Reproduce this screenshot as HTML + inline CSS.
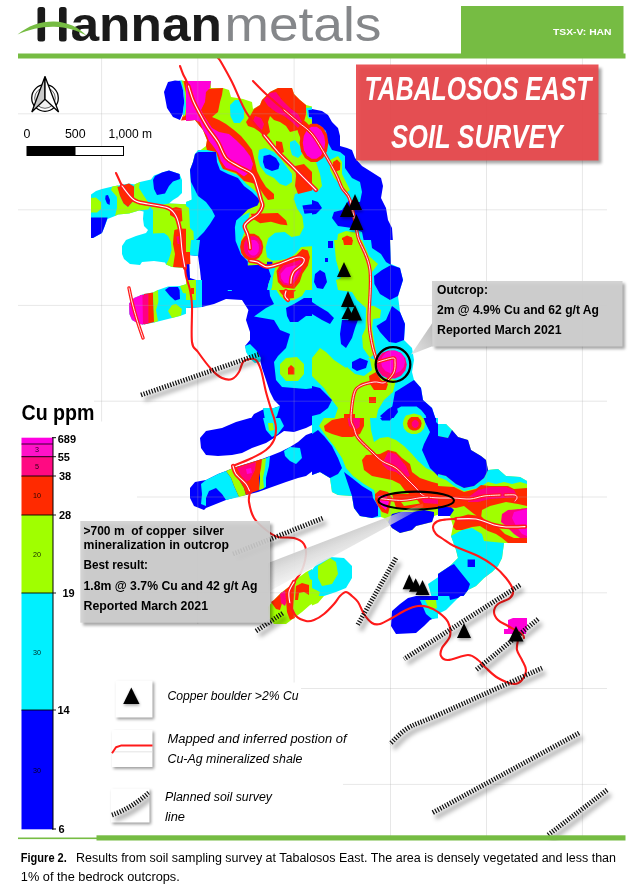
<!DOCTYPE html>
<html><head><meta charset="utf-8"><title>Tabalosos East soil survey</title>
<style>
html,body{margin:0;padding:0;background:#fff;}
body{width:630px;height:888px;overflow:hidden;font-family:"Liberation Sans",sans-serif;}
svg{display:block;font-family:"Liberation Sans",sans-serif;}
.b{font-weight:bold}
.i{font-style:italic}
</style></head><body>
<svg width="630" height="888" viewBox="0 0 630 888">
<defs>
<filter id="sh" x="-20%" y="-20%" width="150%" height="150%"><feGaussianBlur stdDeviation="1.6"/></filter>
<filter id="sh2" x="-20%" y="-20%" width="150%" height="150%"><feGaussianBlur stdDeviation="2.2"/></filter>
<filter id="soft" x="-5%" y="-5%" width="110%" height="110%"><feGaussianBlur stdDeviation="0.35"/></filter>
<linearGradient id="pg1" x1="1" y1="0" x2="0" y2="1"><stop offset="0" stop-color="#b9b9b9"/><stop offset="1" stop-color="#e4e4e4"/></linearGradient>
<linearGradient id="pg2" gradientUnits="userSpaceOnUse" x1="340" y1="528" x2="352" y2="558"><stop offset="0" stop-color="#c2c2c2" stop-opacity="0.95"/><stop offset="0.45" stop-color="#dcdcdc" stop-opacity="0.92"/><stop offset="1" stop-color="#f3f3f3" stop-opacity="0.9"/></linearGradient><linearGradient id="pm2" gradientUnits="userSpaceOnUse" x1="268" y1="0" x2="423" y2="0"><stop offset="0" stop-color="#fff"/><stop offset="0.75" stop-color="#fff"/><stop offset="1" stop-color="#fff" stop-opacity="0.15"/></linearGradient><mask id="mk2"><rect x="260" y="495" width="170" height="105" fill="url(#pm2)"/></mask>
</defs>
<rect width="630" height="888" fill="#fff"/>

<g filter="url(#soft)">
<defs><clipPath id="ca0"><rect x="60" y="62" width="126" height="88"/></clipPath><clipPath id="ca1"><rect x="60" y="150" width="126" height="178"/></clipPath><clipPath id="cb0"><rect x="186" y="62" width="126" height="178"/></clipPath><clipPath id="cb1"><rect x="186" y="240" width="126" height="178"/></clipPath><clipPath id="cb2"><rect x="186" y="418" width="126" height="178"/></clipPath><clipPath id="cb3"><rect x="186" y="560" width="126" height="214"/></clipPath><clipPath id="cc0"><rect x="312" y="62" width="126" height="178"/></clipPath><clipPath id="cc1"><rect x="312" y="240" width="126" height="178"/></clipPath><clipPath id="cc2"><rect x="312" y="418" width="126" height="178"/></clipPath><clipPath id="cc3"><rect x="312" y="596" width="126" height="178"/></clipPath><clipPath id="cd2"><rect x="438" y="418" width="126" height="178"/></clipPath><clipPath id="cd3"><rect x="438" y="596" width="126" height="178"/></clipPath><clipPath id="cp1"><rect x="226" y="200" width="86" height="90"/></clipPath></defs>
<g clip-path="url(#ca0)">
<path fill="#ff2a00" d="M182 81L187 81L187 120L181 120.4L183.4 114.4L185.4 106.4L184.6 92Z"/>
<path fill="#a0ff00" d="M180.6 80.6L183.4 80.6L185.8 92L187 106L185.4 115.6L183 117L185 106L184.2 92Z"/>
<path fill="#00f0ff" d="M178.6 80.4L181.6 80.4L184.6 92L186 106L184.6 115L182.6 114.4L184.2 102L183 90Z"/>
<path fill="#0000ff" d="M164 92L168 82L175 80.4L180.2 81L183 90L184.2 102L182.6 114L180 120L173 117L167 108Z"/>
</g>
<g clip-path="url(#ca1)">
<path fill="#00f0ff" d="M91 194.4L96 191L102 189L112.4 186.6L118 185.6L129 183.6L134.4 184.4L140 182L151 179.6L154 175.6L162 172.4L169 170.6L179.6 174L182 180L182 193L178 197L173 200L169 203.6L188 204.4L188 268L172 267L166 264.4L165 262.4L154 261L142 262L140 265L130 264L124 259L122 254L122 246L126 240L136 236L146 233L148 230L144 226L143 219L143.6 211.6L139 210.6L129 213.6L118 214.4L115 216L107.6 219L104.4 227L102 233L93 238L91 238Z"/>
<path fill="#a0ff00" d="M91 198L96 197.6L101 202L101 209L97 212.4L91 212.4ZM112.4 186.6L118 185.6L120 196L124 204L128 207L134 200L134.4 184.4L140 182L139 188L144 196L148 202L150 207L148 209.4L139 210.6L129 213.6L118 214.4L115 216L117 208L117 197L111 190ZM153 210L150 207L169 203.6L188 204.4L188 268L172 267L166 264.4L169 259L171.6 250L171 242L168 236L164 233L153 233.6Z"/>
<path fill="#0000ff" d="M91 217.4L107.6 217.4L104.4 227L102 233L93 238L91 238ZM105.6 195.6L108 195L110 200L109.6 205L107 203.6L105.2 199ZM153 180L155 176L162 172.4L169 170.6L179.6 174L180 179L173 181.6L169 186L165 193.6L157 195L154 189Z"/>
<path fill="#ff2a00" d="M117.4 187L129 183.6L134 186.4L134 200L128 207L123.6 203.6L120 196ZM170 209L176 207L181.6 208.4L182.4 221L178 222.4L175 218L170 215ZM174.4 230L180 228.4L188 229L188 268L173 267L175 254L173 244L173.6 236Z"/>
<path fill="#ff0080" d="M176.4 236.4L179.6 236L180.4 244L177.6 244Z"/>
<path fill="#00f0ff" d="M129 303.6L134 298L144 294L153 292.4L158 290L168 286.4L180 286L188 283.6L188 313L180 316L172 318L164 320L154 322.4L144 324.4L139 324L132 320L129.4 314Z"/>
<path fill="#ff2a00" d="M144 294L153 292.4L154.4 322L144 324.4Z"/>
<path fill="#ff0080" d="M140 295.2L148.4 294L148.4 323.2L142 324.4Z"/>
<path fill="#ff00d8" d="M129 303.6L134 298L142.4 294.6L143 324.4L139 324L132 320L129.4 314Z"/>
<path fill="#a0ff00" d="M153 292.4L158 290L158.4 302L156 310L158 321L154 322.4Z"/>
<path fill="#0000ff" d="M165 290L169 287L178 287L179.6 290L180 299L175 300.4L170 296Z"/>
<path fill="#a0ff00" d="M168 311L172 305L176 304L182 309L181 315.6L172 318ZM180 286L188 283.6L188 294L183 293Z"/>
</g>
<g clip-path="url(#cb0)">
<path fill="#a0ff00" d="M186 81L211 81L211 88L223 88L229 90L231 97L243 99L252 102L253 109L260 105L262 100L270 92L278 88L292 88L294 94L300 100L306 105L314 107L314 242L186 242L186 202L191 200L198 196L195 190L191 182L190 170L193 162L195 154L198 152L206 146L207 140L203 130L195 120L186 121Z"/>
<path fill="#00f0ff" d="M230 105L235 100L241 100L244 108L244 118L240 123L234 123L230.4 116ZM259 150L265 148L274 152L280 158L286 166L292 174L292 182L286 186L280 184L274 178L266 174L260 166L258 158ZM290 142L295 140L300 146L302 154L298 158L292 155L290 148ZM306 108L314 107L314 120L308 118ZM186 202L191 200L198 196L206 202L212 210L215 216L210 224L204 232L194 232L190 228L189 208L186 206ZM295 194L306 190L314 188L314 242L298 242L300 232L298 222L294 216L292 206ZM198 150L216 150L219 161L222 168L229 171.6L239 175.6L246 183.6L254 190L260 196L263 204L262 211L254 214L250 220L246 228L248 236L254 242L194 242L190 170L193 162L195 154Z"/>
<path fill="#0000ff" d="M263.6 156L270 154.4L276 158L279.6 164L278.4 169L272 171L265 168L263 162ZM198 152L216 152L217 162L220 170L228 174L238 178L244 186L252 192L258 198L261 204L260 209L252 212L246 220L237 222L235 232L232 242L194 242L204 232L210 224L215 216L212 210L206 202L198 196L195 190L191 182L190 170L193 162L195 154ZM308.4 110L314 109.6L314 117.6L309 117ZM302 209L314 208L314 215L303 214.4Z"/>
<path fill="#ff2a00" d="M206 89L223 88L222 95L220 102L218 112L212 117L219 120L226 124L234 130L241 136L246 142L252 150L255 162L257 171L261 179L266 187L274 194L274 199L268 200L264 195L260 189L257 185L252 183L244 181L236 173L223 169L219 161L216 152L207 150L206 146L207 140L203 130L195 120L186 121L186 81L211 81ZM254 109L260 105L262 100L270 92L278 88L292 88L294 94L300 100L306 105L306 114L304 122L298 130L290 132L286 126L280 122L274 120L270 116L268 122L270 132L266 136L260 132L254 128L248 126L246 122L250 116ZM276 141L282 142L284 152L280 154L276 148ZM295 166L304 164L310 170L314 174L314 190L306 192L298 194L295 186L296 176ZM252 212L262 210L274 212L282 216L286 222L284 228L274 227L266 222L260 220L254 222L248 228L246 220ZM246 234L254 232L266 236L266 242L246 242ZM295 114L306 122L314 130L314 152L306 151L302 142L298 132Z"/>
<path fill="#ff00d8" d="M186 81L211 81L210 88L206 92L205 102L201 110L204 116L208 122L212 128L219 132L229 134L236 140L244 148L250 156L253 164L251 171L244 176.4L236 171L226 168L221 161L218 153L213 146L209 141L207 136L203 130L200 122L195 120L186 121Z"/>
<path fill="#ff0080" d="M264 100L270 93L276 92L282 100L290 108L298 114L302 122L298 128L292 122L284 116L276 112L268 106ZM255 116L261 118L264 124L262 130L256 126L253 121Z"/>
<path fill="#ff2a00" d="M328.4 142.8L327 151.3L323 158.1L317.2 161.9L310.8 161.9L305 158.1L301 151.3L299.6 142.8L301 134.3L305 127.5L310.8 123.7L317.2 123.7L323 127.5L327 134.3Z"/>
<path fill="#ff00d8" d="M325.2 142.8L324.1 149.9L321 155.6L316.5 158.8L311.5 158.8L307 155.6L303.9 149.9L302.8 142.8L303.9 135.7L307 130L311.5 126.8L316.5 126.8L321 130L324.1 135.7Z"/>
</g>
<g clip-path="url(#cb1)">
<path fill="#0000ff" d="M186 240L314 240L314 420L250 420L254 414L266 408L274 408L280 406L274 400L270 392L266 380L262 368L260 360L254 354L246 349L245 346L250 340L250 332L246 320L248.4 310L242 300L226 299L214 304L202 307L186 308Z"/>
<path fill="#ffffff" d="M189 255L198 256L200 270L201 280L196 280L190 278Z"/>
<path fill="#00f0ff" d="M186 240L200 240L198 256L189 255L186 252ZM196 280L202 280L202 307L186 308L186 300L196 300ZM235 240L266 240L266 248L263 261L252 262.4L245.6 258.4L240.4 250ZM269 286L274 278L276 268L290 260L298 248L306 242L314 240L314 388L306 389L282 387L276 380L274 362L278 356L286 348L290 334L280 330L274 320L254 316.4L266 308L274 304L270 296Z"/>
<path fill="#0000ff" d="M286 308L294 304L304 298L314 298L314 316L306 316L298 322L290 322L287 316Z"/>
<path fill="#00f0ff" d="M263 408L274 408L280 406L277 416L274 420L265 420ZM245 346L250 344L256 350L261 358L260 362L255 363L250 359L246 352ZM226 287L231 288L232 291L228 291Z"/>
<path fill="#a0ff00" d="M238.4 240L265 240L263 252L261 260L252 261L246 257L242 249ZM276 270L290 261L298 249L306 243L314 242L314 280L308 286L302 296L294 300L286 301L280 296L274 286ZM280 364L286 358L297 357L304 364L304 374L298 381L286 381L280 374ZM186 280L196 280L196 300L186 300ZM186 240L191 240L190 252L186 252Z"/>
<path fill="#ff2a00" d="M240.4 240L263 240L262 252L260 259L252 259.6L247 255L243 248ZM277 272L290 262L298 250L308 248L311 256L310 266L306 276L300 286L294 292L294 298L286 299L280 292L276 283ZM288 368L291 365L294.4 368L294.4 374.4L288 374.4ZM186 252L190 252L190.4 264L186 264.4ZM191 288L194 288L194 294L191 294Z"/>
<path fill="#ff00d8" d="M246 240L261.6 240L261 250L258 257L253 257.6L249 252ZM278 273L290 263L298 260L304 262L303 270L298 280L290 287L282 285L278 280Z"/>
</g>
<g clip-path="url(#cb2)">
<path fill="#0000ff" d="M200 438L206 431L222 428L236 422L250 418L314 418L314 424L306 428L294 432L284 431L274 438L266 443L252 448L242 453L232 455L218 456L206 455L201 448Z"/>
<path fill="#00f0ff" d="M263 418L280 418L284 426L278 434L272 437L266 430Z"/>
<path fill="#a0ff00" d="M268 423L273 423L274 430L269 431Z"/>
<path fill="#0000ff" d="M190 488L195 482L206 480L218 474L226 471L233 468L246 464L262 459L270 456L280 452L290 447L298 442L306 435L314 432L314 470L306 476L298 478L286 482L272 487L258 492L246 495L236 497L226 500L216 504L206 508L204 510L194 506L190 498Z"/>
<path fill="#00f0ff" d="M201 484L206 480L218 474L226 471L231 478L234 486L239 497L226 500L222 494L216 488L209 491L206 498L206 506L201 504L202 494ZM263 460L270 456L269 466L266 478L266 487L260 490L262 478ZM284 451L290 447L300 448L302 458L296 464L290 461L285 456Z"/>
<path fill="#a0ff00" d="M226 471L233 468L238 478L244 488L246 495L239 497L234 486L231 478ZM260 460L266 458L265 468L263 478L264 488L259 490L260 478Z"/>
<path fill="#ff2a00" d="M233 468L246 464L262 459L261 468L259 478L259 490L246 495L244 488L238 478Z"/>
<path fill="#ff0080" d="M237 468L246 465L256 462L255 470L250 480L246 482L241 476Z"/>
<path fill="#ff00d8" d="M246 469L251 468L252 473L247 474Z"/>
</g>
<g clip-path="url(#cb3)">
<path fill="#a0ff00" d="M268 607L274 600L282 592L290 586L298 578L306 572L314 568L314 603L310 605L302 612L294 618L286 624L274 624L269 618Z"/>
<path fill="#ff2a00" d="M271 602L274 600L282 592L286 598L282 603L280 610L276 609Z"/>
<path fill="#ff0080" d="M280 594L285 590L288 598L285 606L281 603Z"/>
<path fill="#ff2a00" d="M285 590L290 586L295 584L294 596L293 610L295 618L290 620L287 612L286 600ZM296 586L302 583L309 585L309 595L304 592L299 593L298 600L295 600Z"/>
<path fill="#00f0ff" d="M308 572L314 568L314 581L310 579Z"/>
</g>
<g clip-path="url(#cc0)">
<path fill="#0000ff" d="M312 109L322 111L328 115L332 122L338 128L340 136L340 146L347 148L352 150L355 158L362 166L370 171L381 178L383 186L381 198L386 208L388 220L392 228L393 242L312 242Z"/>
<path fill="#00f0ff" d="M312 125.6L320 125.6L326 131L327.6 142L332 150L340 152L345 156L345 168L352 178L360 182L362 192L360 202L353 202L349 200L342 210L334 212L332 218L338 226L352 228L362 232L364 242L312 242Z"/>
<path fill="#a0ff00" d="M312 127.2L321 127.2L325 132L326 142L324 152L320 156L312 156.4ZM330 160L338 156L342 162L342 174L346 182L350 190L346.4 192.4L340 184L334 178L330 170ZM312 162L316 162L320 174L322 186L318 191L312 184ZM338 234L346 231L358 233L359 242L337 242Z"/>
<path fill="#ff2a00" d="M333 162L337 159.6L340.4 163L340 170L336 171.6L333 168ZM342 238L347 235.6L352 237.6L353 242L342 242ZM328.4 142.8L327 151.3L323 158.1L317.2 161.9L310.8 161.9L305 158.1L301 151.3L299.6 142.8L301 134.3L305 127.5L310.8 123.7L317.2 123.7L323 127.5L327 134.3Z"/>
<path fill="#ff00d8" d="M325.2 142.8L324.1 149.9L321 155.6L316.5 158.8L311.5 158.8L307 155.6L303.9 149.9L302.8 142.8L303.9 135.7L307 130L311.5 126.8L316.5 126.8L321 130L324.1 135.7Z"/>
<path fill="#0000ff" d="M312 200L318 202L322 208L316 214L312 214.4Z"/>
</g>
<g clip-path="url(#cc1)">
<path fill="#00f0ff" d="M312 240L390 240L391 264L400 268L403 280L398 296L400 312L405 324L404 340L412 348L414 360L412 372L414 380L421 388L423 400L432 408L436 420L312 420Z"/>
<path fill="#a0ff00" d="M334 240L362 240L369 256L378 264L372 272L370 306L374 306L381 310L380 318L373 319L372 328L376 352L370 358L363 348L362 336L365.6 328L366 308L357 300L352 292L338 290L336 280L341 278L336 260ZM312 358L320 348L326 352L334 360L346 368L352 360L370 358L376 360L376 376L396 380L393 392L384 400L378 410L376 420L334 420L338 408L332 400L324 388L312 376Z"/>
<path fill="#00f0ff" d="M342 352L352 349L362 352L370 360L372 370L364 376L355 374L348 368L342 360Z"/>
<path fill="#0000ff" d="M371 240L390 240L391 265L386 262L381 254L372 248ZM374 276L382 270L391 265L400 268L403 280L398 296L390 300L380 294L374.4 284ZM392 306L400 312L405 324L404 340L396 343L389 342L380 332L376.4 326L386 320ZM315 274L320 270L325 273L327 282L323 289L317 288L314 282ZM312 302L318 306L328 312L334 318L330 324L322 320L312 314ZM342 320L358 320L355 328L352 338L346 348L341 344L340 334ZM352 362L360 358L368 361L366 368L357 371L352 368ZM312 386L320 388L332 400L328 408L320 414L312 416ZM395 392L414 380L421 388L423 400L432 408L436 420L391 420L392 408Z"/>
<path fill="#00f0ff" d="M401.2 406.6L416.6 406.6L421.2 410L425.6 415.6L427.8 423.4L393.4 423.4L393.4 415.6L396.6 409Z"/>
<path fill="#a0ff00" d="M403 420L406 415.6L414 413.6L421 415.6L424 420Z"/>
<path fill="#0000ff" d="M380 416L388 409L396 404.4L398 412L392 420L384 420ZM328 241L333 241L333 248L328 248ZM325 258L328 258L328 262L325 262Z"/>
<path fill="#ff2a00" d="M369 376L376 372L381 380L388 384L386 390L374 390L370 384ZM369 397L376 397L376 403L369 403ZM343 240L353 240L352 245L344 245ZM344 414L355 414L355 420L344 420ZM409 420L411 417L418 417L421 420Z"/>
<path fill="#ff0080" d="M406.8 364.4L405.3 370.6L401.1 375.7L395 378.4L388.2 378.4L382.1 375.7L377.9 370.6L376.4 364.4L377.9 358.2L382.1 353.1L388.2 350.4L395 350.4L401.1 353.1L405.3 358.2Z"/>
<path fill="#ff00d8" d="M405 362L403.8 367L400.5 371.1L395.7 373.3L390.3 373.3L385.5 371.1L382.2 367L381 362L382.2 357L385.5 352.9L390.3 350.7L395.7 350.7L400.5 352.9L403.8 357Z"/>
</g>
<g clip-path="url(#cc2)">
<path fill="#a0ff00" d="M312 418L440 418L440 514L434 516L432 522L424 524L416 526L412 530L400 533L392 528L388 522L384 518L378 516L372 518L360 516L354 508L352 496L338 495L332 492L330 478L320 472L312 475Z"/>
<path fill="#00f0ff" d="M312 418L324 418L319 426L326 436L334 446L342 458L346 468L353 476L364 484L374 490L376 498L380 508L381 517L372 518L360 516L354 508L352 496L338 495L332 492L330 478L320 472L312 475Z"/>
<path fill="#0000ff" d="M312 434L318 430L324 436L332 446L338 458L342 468L338 474L330 478L320 472L312 475ZM344 472L352 478L362 486L372 492L373 498L378 506L378 516L372 518L360 516L354 508L352 496L348 484Z"/>
<path fill="#00f0ff" d="M370 418L440 418L440 468L434 472L426 468L418 461L412 454L404 446L396 440L388 437L380 438L374 442L371 430Z"/>
<path fill="#0000ff" d="M418 410L436 410L436 422L438 424L440 424L440 478L430 468L422 450L424 444L430 432L425 422ZM380 418L392 418L390 420.4L382 420.4Z"/>
<path fill="#a0ff00" d="M425.2 423.6L424.1 428.3L421 432L416.5 434.1L411.5 434.1L407 432L403.9 428.3L402.8 423.6L403.9 418.9L407 415.2L411.5 413.1L416.5 413.1L421 415.2L424.1 418.9Z"/>
<path fill="#ff2a00" d="M421.6 423.6L420.9 426.7L418.9 429.2L416 430.6L412.8 430.6L409.9 429.2L407.9 426.7L407.2 423.6L407.9 420.5L409.9 418L412.8 416.6L416 416.6L418.9 418L420.9 420.5Z"/>
<path fill="#ff0080" d="M418.8 424L418.4 425.7L417.4 427.1L416 427.9L414.4 427.9L413 427.1L412 425.7L411.6 424L412 422.3L413 420.9L414.4 420.1L416 420.1L417.4 420.9L418.4 422.3Z"/>
<path fill="#ff2a00" d="M324 426L332 420L342 418L364 418L364 426L360 434L352 437L342 437L332 434L325 431Z"/>
<path fill="#ff0080" d="M347.6 418L360 418L359.6 427L355 430L349 426Z"/>
<path fill="#ff2a00" d="M362 460L366 455L380 454L388 450L396 452L402 458L410 464L412 472L420 478L432 482L440 484L440 508L432 507L424 506L416 498L406 492L400 484L392 480L382 478L372 476L364 470Z"/>
<path fill="#ff0080" d="M382 464L388 452L396 454L406 466L410 476L404 478L396 472L388 470Z"/>
<path fill="#ff2a00" d="M375 494L380 490L388 492L392 498L390 506L388 514L382 512L378 506L375 500ZM392 494L440 494L440 508L396 508Z"/>
<path fill="#ff00d8" d="M378 496L386 495L389 502L386 510L381 506Z"/>
<path fill="#a0ff00" d="M400 500.4L416 498.4L420 503.6L404 506Z"/>
<path fill="#ff0080" d="M420 497L440 496L440 504L424 503Z"/>
<path fill="#0000ff" d="M388 522L392 514L400 512L412 512L424 510L434 512L434 516L432 522L424 524L416 526L412 530L400 533L392 528Z"/>
<path fill="#00f0ff" d="M312 570L318 562L330 557L344 558L352 566L352 578L346 588L336 592L324 596L312 598Z"/>
<path fill="#a0ff00" d="M318 566L330 558L336 562L338 574L332 584L322 586L318 578ZM312 588L320 592L318 598L312 598Z"/>
<path fill="#00f0ff" d="M428 584L440 576L440 598L432 598Z"/>
</g>
<g clip-path="url(#cc3)">
<path fill="#0000ff" d="M392 611L400 604L408 598L416 596L440 596L440 616L430 620L424 626L416 633L396 634L391 626Z"/>
<path fill="#00f0ff" d="M420 600L440 600L440 618L432 619L426 614Z"/>
<path fill="#a0ff00" d="M425 600L436 600L437 608L430 610ZM312 596L324 596L318 603L312 605.6Z"/>
</g>
<g clip-path="url(#cd2)">
<path fill="#a0ff00" d="M438 424L446 424L452 430L458 437L468 440L471 450L481 456L486 460L488 470L498 469L506 476L520 477L527 481L527 543L504 543L502 558L498 566L492 572L484 578L476 586L468 590L462 598L438 598L438 574L450 566L458 558L456 550L451 536L453 526L450 516L438 516Z"/>
<path fill="#00f0ff" d="M438 424L446 424L452 430L448 438L438 436ZM438 474L446 476L456 484L464 488L474 486L484 478L488 470L498 469L506 476L520 477L527 481L527 484L520 482L512 484L504 482L496 484L488 482L478 488L464 491L454 486L446 480L438 477ZM451 536L462 530L472 528L482 534L484 541L504 543L502 558L498 566L492 572L484 578L476 586L468 590L462 598L438 598L438 574L450 566L458 558L456 550Z"/>
<path fill="#0000ff" d="M438 436L448 438L452 430L458 437L468 440L471 450L481 456L486 460L488 470L484 478L474 486L464 488L456 484L446 476L438 474ZM438 574L450 566L454 564L470 584L468 590L462 598L438 598ZM467.6 559.6L475 559.6L475 567L467.6 567ZM438 506L450 506L454 510L450 516L438 516Z"/>
<path fill="#ff2a00" d="M438 486L454 487L464 492L476 489L481 485L490 486L508 486L514 489L527 488L527 506L518 504L506 502L490 506L482 510L481 518L474 514L464 506L456 508L438 506ZM453 527L456 518L468 514.4L481 516L488 523L498 527L505 534L514 538L527 538L527 543L508 543L502 538L496 534L488 531L480 526L472 527L462 530L456 530Z"/>
<path fill="#ff0080" d="M478 490L490 487L506 487L514 490L518 497L504 498L490 499L478 502L468 502L470 496ZM502 514L508 510L527 508L527 538L520 538L514 534L506 526L501 522Z"/>
<path fill="#ff00d8" d="M514 512L527 509L527 536L522 534L516 526L512 518Z"/>
<path fill="#a0ff00" d="M509 507L522 506L521 509L510 509.6Z"/>
</g>
<g clip-path="url(#cd3)">
<path fill="#00f0ff" d="M438 574L450 566L458 560L504 560L498 568L488 576L478 584L468 590L458 598L446 610L438 614Z"/>
<path fill="#0000ff" d="M440 576L450 568L456 565L462 572L470 582L468 590L458 598L450 600L448 590Z"/>
<path fill="#ff00d8" d="M504 629L508 629L508 620L513 618L527 618L527 626L526 634L504 634Z"/>
</g>
<g clip-path="url(#cp1)">
<path fill="#a0ff00" d="M226 200L313.4 200L313.4 291.5L226 291.5Z"/>
<path fill="#00f0ff" d="M294.3 200L313.4 200L313.4 246.4L302.4 247.1L297 252.6L290.2 258L280.6 260.1L272.4 260.7L267 257.3L265.6 247.8L268.3 238.2L275.1 232.8L284.7 232.1L291.5 236.9L299.7 235.5L303.8 227.3L302.4 216.4L297 208.2ZM231.5 220.5L249.9 212.3L246.5 227.3L241 241L249.2 264.2L231.5 254.6Z"/>
<path fill="#0000ff" d="M226 200L260.1 200L257.4 205.5L247.8 209.6L242.4 215L236.2 220.5L234.9 227.3L235.6 241L241 254.6L247.8 261.4L247.8 265.5L267 264.2L273.8 265.5L271 276.4L268.3 284.6L267 291.5L226 291.5Z"/>
<path fill="#00f0ff" d="M267 264.2L273.8 265.5L276.5 271L273.8 281.9L270.4 291.5L267 291.5L268.3 284.6L271 276.4Z"/>
<path fill="#0000ff" d="M267 261.7L272.4 261.7L272.4 264.8L267 264.8ZM302.4 205.5L313.4 204.1L313.4 213L304.5 213.7Z"/>
<path fill="#ff2a00" d="M250.6 213.7L277.9 213L286.1 220.5L287.4 225.3L280.6 224.6L271 221.8L260.1 223.2L253.3 219.1ZM263.3 247.1L262.1 253L258.9 257.8L254.2 260.4L249.1 260.4L244.4 257.8L241.2 253L240.1 247.1L241.2 241.2L244.4 236.4L249.1 233.8L254.2 233.8L258.9 236.4L262.1 241.2Z"/>
<path fill="#ff0080" d="M261.6 247.1L260.7 251.9L258.2 255.8L254.6 258L250.6 258L247 255.8L244.5 251.9L243.6 247.1L244.5 242.2L247 238.3L250.6 236.2L254.6 236.2L258.2 238.3L260.7 242.2Z"/>
<path fill="#ff00d8" d="M259 247.8L258.5 251.2L256.9 254L254.6 255.5L252 255.5L249.7 254L248.1 251.2L247.6 247.8L248.1 244.3L249.7 241.6L252 240.1L254.6 240.1L256.9 241.6L258.5 244.3Z"/>
<path fill="#a0ff00" d="M273.1 276.4L275.8 265.5L283.3 260.7L294.3 255.3L301.1 247.1L313.4 246.4L313.4 291.5L271.7 291.5Z"/>
<path fill="#ff2a00" d="M276.5 271L280.6 264.2L290.2 260.1L297 254.6L302.4 249.1L307.9 250.5L309.9 257.3L307.9 265.5L302.4 273.7L299.7 281.9L294.3 288.7L283.3 287.4L277.9 281.9Z"/>
<path fill="#ff0080" d="M278.6 272.3L283.3 265.5L291.5 262.8L299.7 260.1L303.8 262.8L301.1 271L297 279.2L291.5 286L283.3 284.6L279.2 279.2Z"/>
<path fill="#ff00d8" d="M280.6 273.7L286.1 267.6L294.3 265.5L299.7 265.5L298.3 272.3L294.3 279.2L290.2 283.9L284 282.6L281.3 278.5Z"/>
</g>
</g>
<g stroke="#aaaaaa" stroke-opacity="0.28" stroke-width="1" fill="none">
<path d="M101.6 58V836"/>
<path d="M197.8 58V836"/>
<path d="M294.1 58V836"/>
<path d="M390.5 58V836"/>
<path d="M486.5 58V836"/>
<path d="M582.4 58V836"/>
<path d="M18 113.8H607"/>
<path d="M18 209.8H607"/>
<path d="M18 305.4H607"/>
<path d="M18 401.2H607"/>
<path d="M18 497H607"/>
<path d="M18 592.8H607"/>
<path d="M18 688.5H607"/>
<path d="M18 784.4H607"/>
</g>
<g fill="#fff"><rect x="17" y="399.5" width="77" height="23"/><rect x="17" y="421.5" width="120" height="415"/><rect x="17" y="624" width="275" height="66"/><rect x="100" y="682.5" width="201" height="154"/><rect x="100" y="770" width="243" height="66"/></g>
<g fill="none" stroke-linecap="round" stroke-linejoin="round">
<path d="M180 66C180.5 67.3 182 71.7 183 74C184 76.3 185.1 78 186 80C186.9 82 188.1 85 188.5 86" stroke="#ff1a1a" stroke-width="2.1"/>
<path d="M188.5 86C189.2 88.3 191.1 95.3 193 100C194.9 104.7 197.5 109.3 200 114C202.5 118.7 205 123.3 208 128C211 132.7 215 137 218 142C221 147 222.7 154 226 158C229.3 162 233.7 163.3 238 166C242.3 168.7 248.8 170.7 252 174C255.2 177.3 255.5 181.7 257 186C258.5 190.3 260.1 196.7 261 200C261.9 203.3 263 203.7 262.5 206C262 208.3 260.2 211.6 258 214C255.8 216.4 251.2 218.5 249 220.5C246.8 222.5 244.8 223.8 244.5 226C244.2 228.2 246.7 231.2 247.5 234C248.3 236.8 249.1 240.6 249.5 243C249.9 245.4 249.9 247.6 250 248.5" stroke="#ff1a1a" stroke-width="4.2"/><path d="M188.5 86C189.2 88.3 191.1 95.3 193 100C194.9 104.7 197.5 109.3 200 114C202.5 118.7 205 123.3 208 128C211 132.7 215 137 218 142C221 147 222.7 154 226 158C229.3 162 233.7 163.3 238 166C242.3 168.7 248.8 170.7 252 174C255.2 177.3 255.5 181.7 257 186C258.5 190.3 260.1 196.7 261 200C261.9 203.3 263 203.7 262.5 206C262 208.3 260.2 211.6 258 214C255.8 216.4 251.2 218.5 249 220.5C246.8 222.5 244.8 223.8 244.5 226C244.2 228.2 246.7 231.2 247.5 234C248.3 236.8 249.1 240.6 249.5 243C249.9 245.4 249.9 247.6 250 248.5" stroke="#fff" stroke-width="1.1"/>
<path d="M250 260.7C251.2 260.9 254.6 261.1 257.4 262.1C260.2 263.1 263.1 266.7 267 266.9C270.9 267.1 275.6 265.1 280.6 263.5C285.6 261.9 293.1 258.1 297 257.3C300.9 256.5 302.9 257.6 303.8 258.7C304.7 259.8 304 262.1 302.4 264.2C300.8 266.2 296.1 268.9 294.3 271C292.5 273.1 292.1 274.9 291.5 277C290.9 279.1 290.9 282.2 290.8 283.3" stroke="#ff1a1a" stroke-width="4.2"/><path d="M250 260.7C251.2 260.9 254.6 261.1 257.4 262.1C260.2 263.1 263.1 266.7 267 266.9C270.9 267.1 275.6 265.1 280.6 263.5C285.6 261.9 293.1 258.1 297 257.3C300.9 256.5 302.9 257.6 303.8 258.7C304.7 259.8 304 262.1 302.4 264.2C300.8 266.2 296.1 268.9 294.3 271C292.5 273.1 292.1 274.9 291.5 277C290.9 279.1 290.9 282.2 290.8 283.3" stroke="#fff" stroke-width="1.1"/>
<path d="M286 291C285.8 291.8 284.7 294.5 285 296C285.3 297.5 287.5 299.3 288 300" stroke="#ff1a1a" stroke-width="4.2"/><path d="M286 291C285.8 291.8 284.7 294.5 285 296C285.3 297.5 287.5 299.3 288 300" stroke="#fff" stroke-width="1.1"/>
<path d="M218 58C218.5 58.7 218.7 58 221 62C223.3 66 227.8 73.7 232 82C236.2 90.3 240.7 103.2 246 112C251.3 120.8 261 131.2 264 135" stroke="#ff1a1a" stroke-width="2.1"/>
<path d="M264 135C266.3 137.8 273 146.5 278 152C283 157.5 287.7 161.7 294 168C300.3 174.3 312.3 186.3 316 190" stroke="#ff1a1a" stroke-width="4.2"/><path d="M264 135C266.3 137.8 273 146.5 278 152C283 157.5 287.7 161.7 294 168C300.3 174.3 312.3 186.3 316 190" stroke="#fff" stroke-width="1.1"/>
<path d="M253 81C255.2 83.2 260.8 89.2 266 94C271.2 98.8 281 107.3 284 110" stroke="#ff1a1a" stroke-width="2.1"/>
<path d="M284 110C286.3 112 293.3 118 298 122C302.7 126 307.3 128.3 312 134C316.7 139.7 322 149.3 326 156C330 162.7 333.3 168.7 336 174C338.7 179.3 339.7 183.7 342 188C344.3 192.3 347.5 192.7 350 200C352.5 207.3 355.5 225.3 357 232C358.5 238.7 356.8 233.7 359 240C361.2 246.3 368.3 256.7 370 270C371.7 283.3 368.7 307.7 369 320C369.3 332.3 370.8 337.7 372 344C373.2 350.3 375 355 376 358C377 361 377.7 361.3 378 362" stroke="#ff1a1a" stroke-width="3.3"/><path d="M284 110C286.3 112 293.3 118 298 122C302.7 126 307.3 128.3 312 134C316.7 139.7 322 149.3 326 156C330 162.7 333.3 168.7 336 174C338.7 179.3 339.7 183.7 342 188C344.3 192.3 347.5 192.7 350 200C352.5 207.3 355.5 225.3 357 232C358.5 238.7 356.8 233.7 359 240C361.2 246.3 368.3 256.7 370 270C371.7 283.3 368.7 307.7 369 320C369.3 332.3 370.8 337.7 372 344C373.2 350.3 375 355 376 358C377 361 377.7 361.3 378 362" stroke="#fff" stroke-width="0.9"/>
<path d="M378 362C380.5 361.3 390.2 358 393 358C395.8 358 394.8 359.7 395 362C395.2 364.3 395.2 369 394 372C392.8 375 389.8 378.2 388 380C386.2 381.8 385.3 382.7 383 383C380.7 383.3 377.8 381.5 374 382C370.2 382.5 363.3 384 360 386C356.7 388 355.5 388.7 354 394C352.5 399.3 351 412.3 351 418C351 423.7 352.8 424.7 354 428C355.2 431.3 355 434 358 438C361 442 368 448.2 372 452C376 455.8 378 458.3 382 461C386 463.7 392 465.2 396 468C400 470.8 402.7 474.7 406 478C409.3 481.3 413 485 416 488C419 491 420 494.3 424 496C428 497.7 435 497.7 440 498C445 498.3 449 497.8 454 498C459 498.2 465 499.3 470 499C475 498.7 479 496.7 484 496C489 495.3 497.3 495.2 500 495" stroke="#ff1a1a" stroke-width="3.3"/><path d="M378 362C380.5 361.3 390.2 358 393 358C395.8 358 394.8 359.7 395 362C395.2 364.3 395.2 369 394 372C392.8 375 389.8 378.2 388 380C386.2 381.8 385.3 382.7 383 383C380.7 383.3 377.8 381.5 374 382C370.2 382.5 363.3 384 360 386C356.7 388 355.5 388.7 354 394C352.5 399.3 351 412.3 351 418C351 423.7 352.8 424.7 354 428C355.2 431.3 355 434 358 438C361 442 368 448.2 372 452C376 455.8 378 458.3 382 461C386 463.7 392 465.2 396 468C400 470.8 402.7 474.7 406 478C409.3 481.3 413 485 416 488C419 491 420 494.3 424 496C428 497.7 435 497.7 440 498C445 498.3 449 497.8 454 498C459 498.2 465 499.3 470 499C475 498.7 479 496.7 484 496C489 495.3 497.3 495.2 500 495" stroke="#fff" stroke-width="0.9"/>
<path d="M505 495C506.7 495 513 494.5 515 495C517 495.5 517 497 517 498C517 499 515.3 500.5 515 501" stroke="#ff1a1a" stroke-width="3.3"/><path d="M505 495C506.7 495 513 494.5 515 495C517 495.5 517 497 517 498C517 499 515.3 500.5 515 501" stroke="#fff" stroke-width="0.9"/>
<path d="M380 498.6C383.7 498.9 395.3 500.5 402 500.4C408.7 500.3 415.7 498.3 420 497.8C424.3 497.3 426.7 497.3 428 497.2" stroke="#ff1a1a" stroke-width="3.3"/><path d="M380 498.6C383.7 498.9 395.3 500.5 402 500.4C408.7 500.3 415.7 498.3 420 497.8C424.3 497.3 426.7 497.3 428 497.2" stroke="#fff" stroke-width="0.9"/>
<path d="M456 519C459.3 519 469.7 518 476 519C482.3 520 489 523.7 494 525C499 526.3 500.8 526.7 506 527C511.2 527.3 521.8 526.7 525 526.6" stroke="#ff1a1a" stroke-width="4.2"/><path d="M456 519C459.3 519 469.7 518 476 519C482.3 520 489 523.7 494 525C499 526.3 500.8 526.7 506 527C511.2 527.3 521.8 526.7 525 526.6" stroke="#fff" stroke-width="1.1"/>
<path d="M116 173L122 186" stroke="#ff1a1a" stroke-width="2.1"/>
<path d="M122 186C124 188.3 129.7 197 134 200C138.3 203 142.3 202.7 148 204C153.7 205.3 163.3 206 168 208C172.7 210 174 212.3 176 216C178 219.7 179 224.3 180 230C181 235.7 181.2 243.7 182 250C182.8 256.3 184.5 265 185 268" stroke="#ff1a1a" stroke-width="4.2"/><path d="M122 186C124 188.3 129.7 197 134 200C138.3 203 142.3 202.7 148 204C153.7 205.3 163.3 206 168 208C172.7 210 174 212.3 176 216C178 219.7 179 224.3 180 230C181 235.7 181.2 243.7 182 250C182.8 256.3 184.5 265 185 268" stroke="#fff" stroke-width="1.1"/>
<path d="M185 268C185.2 269.3 185.2 272.3 186 276C186.8 279.7 189 285 190 290C191 295 191.7 297.3 192 306C192.3 314.7 191 334.3 192 342C193 349.7 194.7 347.3 198 352C201.3 356.7 208 365.7 212 370C216 374.3 218.7 376.5 222 378C225.3 379.5 229.2 380 232 379C234.8 378 237.2 374.8 239 372C240.8 369.2 241.2 364.2 243 362C244.8 359.8 247.8 359.3 250 359C252.2 358.7 254.2 358.2 256 360C257.8 361.8 259.3 364.7 261 370C262.7 375.3 264.2 385 266 392C267.8 399 270.7 407.7 272 412C273.3 416.3 273.3 415.3 274 418C274.7 420.7 276 424.3 276 428C276 431.7 275.7 436.3 274 440C272.3 443.7 269.7 447 266 450C262.3 453 257.5 455.3 252 458C246.5 460.7 236.2 464.7 233 466" stroke="#ff1a1a" stroke-width="2.1"/>
<path d="M233 466C233.5 467.3 233.8 471 236 474C238.2 477 243.7 481 246 484C248.3 487 249.3 490.7 250 492" stroke="#ff1a1a" stroke-width="4.2"/><path d="M233 466C233.5 467.3 233.8 471 236 474C238.2 477 243.7 481 246 484C248.3 487 249.3 490.7 250 492" stroke="#fff" stroke-width="1.1"/>
<path d="M250 492C249.8 493.7 248.3 497.7 249 502C249.7 506.3 251.2 513.3 254 518C256.8 522.7 262 526.8 266 530C270 533.2 273.3 535.7 278 537C282.7 538.3 289.7 536.8 294 538C298.3 539.2 302 541.3 304 544C306 546.7 306.3 549.7 306 554C305.7 558.3 304 565.3 302 570C300 574.7 295.3 580 294 582" stroke="#ff1a1a" stroke-width="2.1"/>
<path d="M294 582C293.2 583.7 289.7 588.3 289 592C288.3 595.7 289.8 602 290 604" stroke="#ff1a1a" stroke-width="4.2"/><path d="M294 582C293.2 583.7 289.7 588.3 289 592C288.3 595.7 289.8 602 290 604" stroke="#fff" stroke-width="1.1"/>
<path d="M290 604C291 606 293.3 613.2 296 616C298.7 618.8 303 620.3 306 621C309 621.7 311 621.2 314 620C317 618.8 320.7 616.7 324 614C327.3 611.3 331.3 607 334 604C336.7 601 338 598 340 596C342 594 344 592 346 592C348 592 350 594.3 352 596C354 597.7 356 599 358 602C360 605 361.7 610.5 364 614C366.3 617.5 369.3 621.3 372 623C374.7 624.7 376.7 624.8 380 624C383.3 623.2 387.7 620.3 392 618C396.3 615.7 401.7 612 406 610C410.3 608 414.3 606.5 418 606C421.7 605.5 424.7 606 428 607C431.3 608 434.7 609.5 438 612C441.3 614.5 446 618 448 622C450 626 451 631.7 450 636C449 640.3 443.5 644.7 442 648C440.5 651.3 440 654 441 656C442 658 443.5 660.2 448 660C452.5 659.8 463 655 468 655C473 655 475 657.8 478 660C481 662.2 482.7 665 486 668C489.3 671 493.3 675.3 498 678C502.7 680.7 510 683.7 514 684C518 684.3 520 682.3 522 680C524 677.7 526 673.3 526 670C526 666.7 523.5 663.3 522 660C520.5 656.7 517.7 653.3 517 650C516.3 646.7 517.8 641.7 518 640" stroke="#ff1a1a" stroke-width="2.1"/>
<path d="M456 519C454.3 519.1 449.2 519.1 446 519.5C442.8 519.9 439.2 520.2 437 521.5C434.8 522.8 433.2 524.9 433 527C432.8 529.1 434.3 532 436 534C437.7 536 440 537 443 539C446 541 448.2 543.2 454 546C459.8 548.8 471.3 552.7 478 556C484.7 559.3 489.3 562.3 494 566C498.7 569.7 502.8 574 506 578C509.2 582 512.3 586.7 513 590C513.7 593.3 512.5 595.7 510 598C507.5 600.3 500.7 601.7 498 604C495.3 606.3 494 609.3 494 612C494 614.7 495.7 617.7 498 620C500.3 622.3 504 623.7 508 626C512 628.3 519.3 632 522 634C524.7 636 523.7 637.3 524 638" stroke="#ff1a1a" stroke-width="2.1"/>
<path d="M129 288C129.5 290.3 130.7 296.7 132 302C133.3 307.3 135.2 314 137 320C138.8 326 142 335 143 338" stroke="#ff1a1a" stroke-width="3.4"/><path d="M129 288C129.5 290.3 130.7 296.7 132 302C133.3 307.3 135.2 314 137 320C138.8 326 142 335 143 338" stroke="#fff" stroke-width="0.9"/>
</g>
<path d="M141 395L260 354" transform="translate(3.5,4.5)" stroke="#000" stroke-opacity="0.28" stroke-width="5" fill="none" filter="url(#sh2)"/>
<path d="M233 554L323 518" transform="translate(3.5,4.5)" stroke="#000" stroke-opacity="0.28" stroke-width="5" fill="none" filter="url(#sh2)"/>
<path d="M256 631L283 613" transform="translate(3.5,4.5)" stroke="#000" stroke-opacity="0.28" stroke-width="5" fill="none" filter="url(#sh2)"/>
<path d="M396 558L357 626" transform="translate(3.5,4.5)" stroke="#000" stroke-opacity="0.28" stroke-width="5" fill="none" filter="url(#sh2)"/>
<path d="M520 585L404 659" transform="translate(3.5,4.5)" stroke="#000" stroke-opacity="0.28" stroke-width="5" fill="none" filter="url(#sh2)"/>
<path d="M538 619L476 670" transform="translate(3.5,4.5)" stroke="#000" stroke-opacity="0.28" stroke-width="5" fill="none" filter="url(#sh2)"/>
<path d="M542 668C525 675.7 462.3 704 440 714C417.7 724 416.3 723 408 728C399.7 733 393 741.3 390 744" transform="translate(3.5,4.5)" stroke="#000" stroke-opacity="0.28" stroke-width="5" fill="none" filter="url(#sh2)"/>
<path d="M579 733L432 813" transform="translate(3.5,4.5)" stroke="#000" stroke-opacity="0.28" stroke-width="5" fill="none" filter="url(#sh2)"/>
<path d="M607 790L548 835" transform="translate(3.5,4.5)" stroke="#000" stroke-opacity="0.28" stroke-width="5" fill="none" filter="url(#sh2)"/>
<path d="M141 395L260 354" stroke="#111" stroke-width="4.8" stroke-dasharray="1.25 1.55" fill="none"/>
<path d="M233 554L323 518" stroke="#111" stroke-width="4.8" stroke-dasharray="1.25 1.55" fill="none"/>
<path d="M256 631L283 613" stroke="#111" stroke-width="4.8" stroke-dasharray="1.25 1.55" fill="none"/>
<path d="M396 558L357 626" stroke="#111" stroke-width="4.8" stroke-dasharray="1.25 1.55" fill="none"/>
<path d="M520 585L404 659" stroke="#111" stroke-width="4.8" stroke-dasharray="1.25 1.55" fill="none"/>
<path d="M538 619L476 670" stroke="#111" stroke-width="4.8" stroke-dasharray="1.25 1.55" fill="none"/>
<path d="M542 668C525 675.7 462.3 704 440 714C417.7 724 416.3 723 408 728C399.7 733 393 741.3 390 744" stroke="#111" stroke-width="4.8" stroke-dasharray="1.25 1.55" fill="none"/>
<path d="M579 733L432 813" stroke="#111" stroke-width="4.8" stroke-dasharray="1.25 1.55" fill="none"/>
<path d="M607 790L548 835" stroke="#111" stroke-width="4.8" stroke-dasharray="1.25 1.55" fill="none"/>
<path d="M355 194L362 210H348Z" fill="#000" opacity="0.35" filter="url(#sh)" transform="translate(1,2)"/>
<path d="M347 202L354 217H340Z" fill="#000" opacity="0.35" filter="url(#sh)" transform="translate(1,2)"/>
<path d="M356.4 214L363.4 230H349.4Z" fill="#000" opacity="0.35" filter="url(#sh)" transform="translate(1,2)"/>
<path d="M344 262L351 277H337Z" fill="#000" opacity="0.35" filter="url(#sh)" transform="translate(1,2)"/>
<path d="M348 291L355 307H341Z" fill="#000" opacity="0.35" filter="url(#sh)" transform="translate(1,2)"/>
<path d="M348 306L354.5 319H341.5Z" fill="#000" opacity="0.35" filter="url(#sh)" transform="translate(1,2)"/>
<path d="M355 305L362 320.4H348Z" fill="#000" opacity="0.35" filter="url(#sh)" transform="translate(1,2)"/>
<path d="M409.3 574.3L416 589.3H402.6Z" fill="#000" opacity="0.35" filter="url(#sh)" transform="translate(1,2)"/>
<path d="M415.7 578.3L422.4 591.7H409Z" fill="#000" opacity="0.35" filter="url(#sh)" transform="translate(1,2)"/>
<path d="M422.5 580L429.5 595H415.5Z" fill="#000" opacity="0.35" filter="url(#sh)" transform="translate(1,2)"/>
<path d="M464 623L471 638H457Z" fill="#000" opacity="0.35" filter="url(#sh)" transform="translate(1,2)"/>
<path d="M516 626L523.5 641.6H508.5Z" fill="#000" opacity="0.35" filter="url(#sh)" transform="translate(1,2)"/>
<path d="M355 194L362 210H348Z" fill="#000"/>
<path d="M347 202L354 217H340Z" fill="#000"/>
<path d="M356.4 214L363.4 230H349.4Z" fill="#000"/>
<path d="M344 262L351 277H337Z" fill="#000"/>
<path d="M348 291L355 307H341Z" fill="#000"/>
<path d="M348 306L354.5 319H341.5Z" fill="#000"/>
<path d="M355 305L362 320.4H348Z" fill="#000"/>
<path d="M409.3 574.3L416 589.3H402.6Z" fill="#000"/>
<path d="M415.7 578.3L422.4 591.7H409Z" fill="#000"/>
<path d="M422.5 580L429.5 595H415.5Z" fill="#000"/>
<path d="M464 623L471 638H457Z" fill="#000"/>
<path d="M516 626L523.5 641.6H508.5Z" fill="#000"/>
<circle cx="393" cy="364.5" r="17.3" fill="none" stroke="#000" stroke-width="2.3"/>
<ellipse cx="416.2" cy="500.5" rx="37.8" ry="8.9" fill="none" stroke="#000" stroke-width="2.1"/>
<rect x="0" y="0" width="630" height="58" fill="#fff"/>
<rect x="18" y="53.5" width="607.5" height="5" fill="#76bc43"/>
<rect x="461" y="6" width="162.5" height="48" fill="#76bc43"/>
<text x="553" y="34.5" font-size="9.3" fill="#fff" textLength="58.5" lengthAdjust="spacingAndGlyphs" class="b">TSX-V: HAN</text>
<g fill="#1a1a1a"><rect x="37.5" y="7" width="7.6" height="34.5" rx="2.5"/><rect x="59" y="7" width="7.6" height="34.5" rx="2.5"/></g>
<text x="70.5" y="41.3" font-size="47.5" fill="#1a1a1a" textLength="151.5" lengthAdjust="spacingAndGlyphs" class="b">annan</text>
<text x="224.5" y="41.3" font-size="47.5" fill="#85878a" textLength="157" lengthAdjust="spacingAndGlyphs">metals</text>
<path d="M17.5 34.6C28 25.5 41 21.2 54 21.4C67 21.8 79 27 86.5 35.6C77 30.2 66 27 54 26.8C41 26.6 29 29.4 17.5 34.6Z" fill="#76bc43"/>
<g stroke="#000" stroke-width="1.3" fill="none" stroke-linejoin="miter">
<circle cx="45" cy="98" r="13.3" fill="#fff"/><circle cx="45" cy="98" r="10.3" stroke-width="0.6" fill="#f2f2f2"/>
<path d="M45 76.5L31.8 112L45 99.3Z" fill="#c8c8c8"/><path d="M45 76.5L58.6 112L45 99.3Z" fill="#fff"/>
</g>
<text x="27" y="138.2" font-size="12.4" fill="#000" text-anchor="middle">0</text>
<text x="75.3" y="138.2" font-size="12.4" fill="#000" text-anchor="middle">500</text>
<text x="108.5" y="138.2" font-size="12.4" fill="#000" textLength="43.5" lengthAdjust="spacingAndGlyphs">1,000 m</text>
<rect x="27" y="146.5" width="96.5" height="9" fill="#fff" stroke="#000" stroke-width="1"/><rect x="27" y="146.5" width="48.5" height="9" fill="#000"/>
<rect x="359" y="68" width="242.5" height="95.5" fill="#000" opacity="0.35" filter="url(#sh)"/>
<rect x="356" y="64.5" width="242.5" height="96" fill="#e8474b" opacity="0.93"/>
<text x="364.5" y="100.3" font-size="32.3" fill="#fff" textLength="227" lengthAdjust="spacingAndGlyphs" class="b i">TABALOSOS EAST</text>
<text x="391" y="147.7" font-size="32.3" fill="#fff" textLength="171.5" lengthAdjust="spacingAndGlyphs" class="b i">SOIL SURVEY</text>
<path d="M433 322L433 346L411 354.5Z" fill="url(#pg1)"/>
<rect x="434.5" y="283.5" width="190.5" height="65.5" fill="#000" opacity="0.35" filter="url(#sh)"/>
<rect x="432" y="281" width="190.5" height="65.5" fill="#cfcfcf" opacity="0.92"/>
<text x="437" y="294" font-size="12.3" fill="#000" textLength="51" lengthAdjust="spacingAndGlyphs" class="b">Outcrop:</text>
<text x="437" y="314.3" font-size="12.3" fill="#000" textLength="162" lengthAdjust="spacingAndGlyphs" class="b">2m @ 4.9% Cu and 62 g/t Ag</text>
<text x="437" y="334" font-size="12.3" fill="#000" textLength="124.5" lengthAdjust="spacingAndGlyphs" class="b">Reported March 2021</text>
<path d="M268 563L423 503.5L423.5 507L268 592Z" fill="url(#pg2)" mask="url(#mk2)"/>
<rect x="83" y="524" width="189.5" height="101.5" fill="#000" opacity="0.35" filter="url(#sh)"/>
<rect x="80.3" y="521" width="189.7" height="101.7" fill="#cfcfcf" opacity="0.9"/>
<text x="83.5" y="535" font-size="12.3" fill="#000" textLength="140.5" lengthAdjust="spacingAndGlyphs" class="b" xml:space="preserve">&gt;700 m  of copper  silver</text>
<text x="83.5" y="548.5" font-size="12.3" fill="#000" textLength="145.5" lengthAdjust="spacingAndGlyphs" class="b">mineralization in outcrop</text>
<text x="83.5" y="569.3" font-size="12.3" fill="#000" textLength="64.5" lengthAdjust="spacingAndGlyphs" class="b">Best result:</text>
<text x="83.5" y="590" font-size="12.3" fill="#000" textLength="174" lengthAdjust="spacingAndGlyphs" class="b">1.8m @ 3.7% Cu and 42 g/t Ag</text>
<text x="83.5" y="610.3" font-size="12.3" fill="#000" textLength="124.5" lengthAdjust="spacingAndGlyphs" class="b">Reported March 2021</text>
<text x="21.5" y="420.2" font-size="22.5" fill="#000" textLength="73" lengthAdjust="spacingAndGlyphs" class="b">Cu ppm</text>
<rect x="21.5" y="437.7" width="31.5" height="6.6" fill="#ff00e1"/>
<rect x="21.5" y="444" width="31.5" height="13" fill="#ff12c8"/>
<rect x="21.5" y="456.7" width="31.5" height="19.6" fill="#ff0a82"/>
<rect x="21.5" y="476" width="31.5" height="39.3" fill="#ff2a00"/>
<rect x="21.5" y="515" width="31.5" height="78.3" fill="#a0ff00"/>
<rect x="21.5" y="593" width="31.5" height="117.3" fill="#00f0ff"/>
<rect x="21.5" y="710" width="31.5" height="119.3" fill="#0000ff"/>
<g stroke="#000" stroke-width="1" fill="none"><path d="M53 437.7V829.5"/>
<path d="M21.5 444H53" stroke-width="0.8"/>
<path d="M52 437.7H56"/>
<path d="M21.5 456.7H56" stroke-width="0.9"/>
<path d="M21.5 476H56" stroke-width="0.9"/>
<path d="M21.5 515H56" stroke-width="0.9"/>
<path d="M21.5 593H56" stroke-width="0.9"/>
<path d="M21.5 710H56" stroke-width="0.9"/>
<path d="M52 829H56"/>
</g>
<text x="57.7" y="443.2" font-size="11" fill="#000" class="b">689</text>
<text x="57.7" y="460.5" font-size="11" fill="#000" class="b">55</text>
<text x="59" y="479.8" font-size="11" fill="#000" class="b">38</text>
<text x="59" y="518.8" font-size="11" fill="#000" class="b">28</text>
<text x="62.5" y="597" font-size="11" fill="#000" class="b">19</text>
<text x="57.5" y="714" font-size="11" fill="#000" class="b">14</text>
<text x="58.5" y="833" font-size="11" fill="#000" class="b">6</text>
<text x="37" y="452.3" font-size="7.2" fill="#000" text-anchor="middle" opacity="0.85">3</text>
<text x="37" y="469" font-size="7.2" fill="#000" text-anchor="middle" opacity="0.85">5</text>
<text x="37" y="498" font-size="7.2" fill="#000" text-anchor="middle" opacity="0.85">10</text>
<text x="37" y="557" font-size="7.2" fill="#000" text-anchor="middle" opacity="0.85">20</text>
<text x="37" y="654.5" font-size="7.2" fill="#000" text-anchor="middle" opacity="0.85">30</text>
<text x="37" y="772.5" font-size="7.2" fill="#000" text-anchor="middle" opacity="0.85">30</text>
<rect x="117.1" y="682.3" width="37" height="37" fill="#000" opacity="0.4" filter="url(#sh)"/>
<rect x="115.5" y="680.5" width="37" height="37" fill="#fff"/>
<path d="M131.3 687.5L139.5 704H123.2Z" fill="#000" opacity="0.35" filter="url(#sh)" transform="translate(0.5,1.5)"/>
<path d="M131.3 687.5L139.5 704H123.2Z" fill="#000"/>
<rect x="113.6" y="731.8" width="40.5" height="37" fill="#000" opacity="0.4" filter="url(#sh)"/>
<rect x="112" y="730" width="40.5" height="37" fill="#fff"/>
<path d="M112 751.8H152.5" stroke="#ddd" stroke-width="0.8"/>
<path d="M112 753.2L116 747.2L121.5 745.4L152.5 745.6" stroke="#ff1a1a" stroke-width="2" fill="none" stroke-linejoin="round"/>
<rect x="112.6" y="790.3" width="38.5" height="34" fill="#000" opacity="0.4" filter="url(#sh)"/>
<rect x="111" y="788.5" width="38.5" height="34" fill="#fff"/>
<clipPath id="cl3"><rect x="111" y="788.5" width="38.5" height="34"/></clipPath><g clip-path="url(#cl3)"><path d="M112 815C124 811 137 803 149 792.5" transform="translate(3,4.5)" stroke="#000" stroke-opacity="0.3" stroke-width="5" fill="none" filter="url(#sh2)"/><path d="M112 815C124 811 137 803 149 792.5" stroke="#111" stroke-width="4.8" stroke-dasharray="1.25 1.55" fill="none"/></g>
<text x="167.5" y="700.3" font-size="12" fill="#000" textLength="131" lengthAdjust="spacingAndGlyphs" class="i">Copper boulder &gt;2% Cu</text>
<text x="167.5" y="742.7" font-size="12" fill="#000" textLength="179" lengthAdjust="spacingAndGlyphs" class="i">Mapped and inferred postion of</text>
<text x="167.5" y="762.7" font-size="12" fill="#000" textLength="135" lengthAdjust="spacingAndGlyphs" class="i">Cu-Ag mineralized shale</text>
<text x="165" y="801" font-size="12" fill="#000" textLength="107" lengthAdjust="spacingAndGlyphs" class="i">Planned soil survey</text>
<text x="165" y="821.3" font-size="12" fill="#000" textLength="20" lengthAdjust="spacingAndGlyphs" class="i">line</text>
<rect x="0" y="841" width="630" height="47" fill="#fff"/>
<rect x="18" y="837.5" width="79" height="1.6" fill="#76bc43"/><rect x="96.5" y="835.3" width="529" height="5.2" fill="#76bc43"/>
<text x="20.8" y="861.6" font-size="12" fill="#000" textLength="46" lengthAdjust="spacingAndGlyphs" class="b">Figure 2.</text>
<text x="76" y="861.6" font-size="12" fill="#000" textLength="540" lengthAdjust="spacingAndGlyphs">Results from soil sampling survey at Tabalosos East. The area is densely vegetated and less than</text>
<text x="20.8" y="880.5" font-size="12" fill="#000" textLength="159" lengthAdjust="spacingAndGlyphs">1% of the bedrock outcrops.</text>
</svg></body></html>
